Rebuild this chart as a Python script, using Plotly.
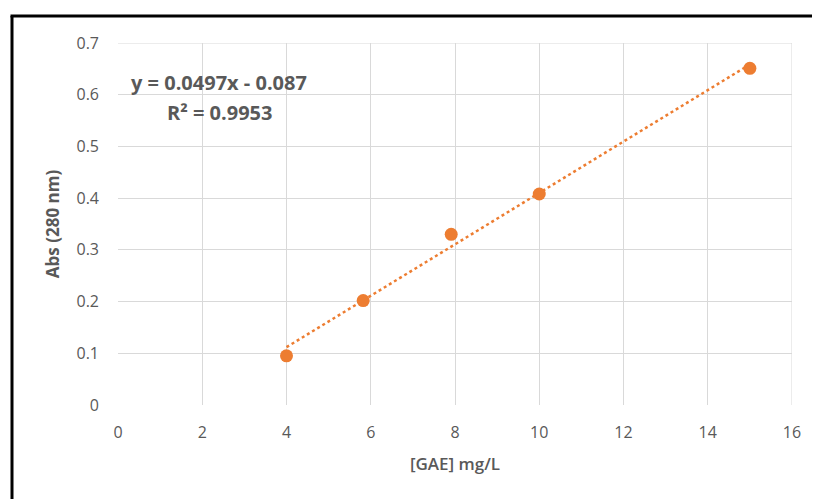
import numpy as np
import plotly.graph_objects as go

conc = [4.0, 5.82, 7.91, 10.0, 15.0]
absorb = [0.095, 0.202, 0.330, 0.408, 0.651]
slope = 0.0497
intercept = -0.087
r2 = 0.9953
x_ticks = [0, 2, 4, 6, 8, 10, 12, 14, 16]
y_ticks = [0, 0.1, 0.2, 0.3, 0.4, 0.5, 0.6, 0.7]

orange = "#ED7D31"
gray = "#595959"
grid = "#d9d9d9"
font_fam = "Open Sans, Noto Sans, Arial"

xs = np.array([min(conc), max(conc)])
fit = slope * xs + intercept

fig = go.Figure()
fig.add_trace(go.Scatter(x=xs, y=fit, mode="lines",
                         line=dict(color=orange, width=2.5, dash="dot"),
                         hoverinfo="skip", showlegend=False))
fig.add_trace(go.Scatter(x=conc, y=absorb, mode="markers",
                         marker=dict(color=orange, size=13),
                         showlegend=False))

# page offset (body margin) compensation
OFF = 8
W, H = 820 - OFF, 499 - OFF
L, T = 118 - OFF, 43 - OFF
R = 820 - 792
B = 499 - 405
pw, ph = 792 - 118, 405 - 43

def px(xp):
    return (xp - 118) / pw

def py(yp):
    return (405 - yp) / ph

fig.add_shape(type="line", xref="paper", yref="paper",
              x0=px(12), y0=py(H + 20), x1=px(12), y1=py(16),
              line=dict(color="black", width=3))
fig.add_shape(type="line", xref="paper", yref="paper",
              x0=px(10.5), y0=py(16), x1=px(W + 20), y1=py(16),
              line=dict(color="black", width=3))

fig.add_annotation(xref="paper", yref="paper", x=px(219), y=py(82),
                   xanchor="center", yanchor="middle",
                   text=f"y = {slope}x - {abs(intercept)}", showarrow=False,
                   font=dict(family=font_fam, size=20, color=gray, weight="bold"))
fig.add_annotation(xref="paper", yref="paper", x=px(220), y=py(112),
                   xanchor="center", yanchor="middle",
                   text=f"R² = {r2}", showarrow=False,
                   font=dict(family=font_fam, size=20, color=gray, weight="bold"))

fig.update_layout(
    width=W, height=H,
    margin=dict(l=L, r=R, t=T, b=B),
    paper_bgcolor="white", plot_bgcolor="white",
    font=dict(family=font_fam, color=gray, size=16),
    xaxis=dict(range=[0, 16], tickvals=x_ticks, showgrid=True,
               gridcolor=grid, gridwidth=1, zeroline=False,
               showline=False, ticks="", ticklabelstandoff=16,
               tickfont=dict(size=16, color=gray),
               title=dict(text="[GAE] mg/L", standoff=16,
                          font=dict(size=17, color=gray, weight=600))),
    yaxis=dict(range=[0, 0.7], tickvals=y_ticks, showgrid=True,
               gridcolor=grid, gridwidth=1, zeroline=False,
               showline=False, ticks="", ticklabelstandoff=18,
               tickfont=dict(size=16, color=gray),
               title=dict(text="Abs (280 nm)", standoff=12,
                          font=dict(size=17, color=gray, weight="bold"))),
)
fig.add_shape(type="line", xref="x", yref="paper", x0=16, x1=16, y0=0, y1=1,
              line=dict(color=grid, width=1), layer="below")
fig.add_shape(type="line", xref="paper", yref="y", x0=0, x1=1, y0=0.7, y1=0.7,
              line=dict(color=grid, width=1), layer="below")

fig.write_html("out.html")
